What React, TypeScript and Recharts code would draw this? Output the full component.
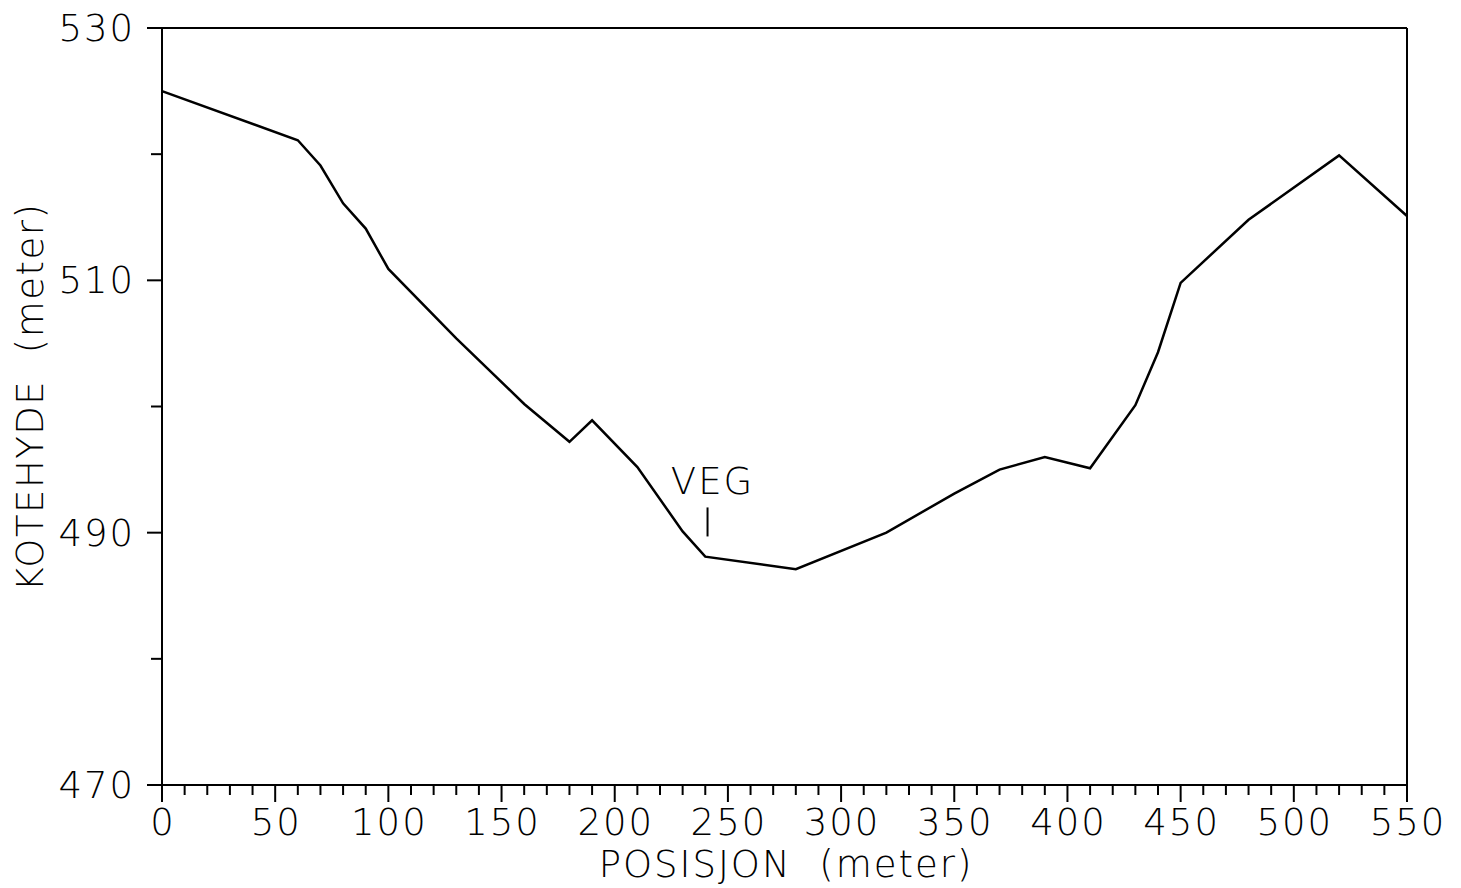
import { LineChart, Line, XAxis, YAxis, ReferenceLine, Label } from 'recharts';

// Terrengprofil: posisjon langs linja (m) og kotehøyde (m)
const posisjon = [0, 60, 70, 80, 90, 100, 130, 160, 180, 190, 210, 230, 240, 280, 320, 350, 370, 390, 410, 430, 440, 450, 480, 520, 550];
const kotehoyde = [525.0, 521.1, 519.1, 516.1, 514.1, 510.9, 505.4, 500.2, 497.2, 498.9, 495.2, 490.1, 488.1, 487.1, 490.0, 493.1, 495.0, 496.0, 495.1, 500.1, 504.3, 509.8, 514.8, 519.9, 515.1];

const xTicks = [
  0, 10, 20, 30, 40, 50, 60, 70, 80, 90, 100, 110, 120, 130, 140, 150, 160, 170, 180, 190,
  200, 210, 220, 230, 240, 250, 260, 270, 280, 290, 300, 310, 320, 330, 340, 350, 360, 370,
  380, 390, 400, 410, 420, 430, 440, 450, 460, 470, 480, 490, 500, 510, 520, 530, 540, 550,
];
const xLabels = [0, 50, 100, 150, 200, 250, 300, 350, 400, 450, 500, 550];
const yTicks = [470, 480, 490, 500, 510, 520, 530];
const yLabels = [470, 490, 510, 530];

// vegens plassering i profilet
const vegPos = 241;
const vegSpenn = [489.7, 492.0];

const data = posisjon.map((p, i) => ({ posisjon: p, kote: kotehoyde[i] }));

const FONT = '"DejaVu Sans", sans-serif';
const SIZE = 37;
const textStyle = { fontFamily: FONT, fontSize: SIZE, fontWeight: 200, letterSpacing: 2, whiteSpace: 'pre' as const };

const XTick = ({ x, y, payload }: any) => {
  const major = xLabels.includes(payload.value);
  return (
    <g>
      <line x1={x} y1={y} x2={x} y2={y + (major ? 17 : 10)} stroke="#000" strokeWidth={2} />
      {major && (
        <text x={x + 1} y={y + 50} textAnchor="middle" fill="#000" style={textStyle}>
          {payload.value}
        </text>
      )}
    </g>
  );
};

const YTick = ({ x, y, payload }: any) => {
  const major = yLabels.includes(payload.value);
  return (
    <g>
      <line x1={x} y1={y} x2={x - (major ? 15 : 11)} y2={y} stroke="#000" strokeWidth={2} />
      {major && (
        <text x={x - 27} y={y + 13} textAnchor="end" fill="#000" style={textStyle}>
          {payload.value}
        </text>
      )}
    </g>
  );
};

export default function App() {
  return (
    <div style={{ position: 'absolute', left: 0, top: 0, width: 1461, height: 888, background: '#fff' }}>
      <LineChart width={1461} height={888} data={data} margin={{ top: 28, right: 54, left: 0, bottom: 0 }}>
        <XAxis
          type="number"
          dataKey="posisjon"
          domain={[0, 550]}
          ticks={xTicks}
          interval={0}
          height={103}
          tickSize={0}
          tickMargin={0}
          tick={<XTick />}
          axisLine={{ stroke: '#000', strokeWidth: 2 }}
        >
          <Label
            content={() => (
              <text x={786} y={877} textAnchor="middle" fill="#000" style={textStyle}>
                {'POSISJON  (meter)'}
              </text>
            )}
          />
        </XAxis>
        <YAxis
          type="number"
          domain={[470, 530]}
          ticks={yTicks}
          interval={0}
          width={162}
          tickSize={0}
          tickMargin={0}
          tick={<YTick />}
          axisLine={{ stroke: '#000', strokeWidth: 2 }}
        >
          <Label
            content={() => (
              <text
                x={0}
                y={0}
                transform="translate(43 397) rotate(-90)"
                textAnchor="middle"
                fill="#000"
                style={{ ...textStyle, letterSpacing: 1.5 }}
              >
                {'KOTEHYDE  (meter)'}
              </text>
            )}
          />
        </YAxis>
        <ReferenceLine y={530} stroke="#000" strokeWidth={2} ifOverflow="visible" />
        <ReferenceLine x={550} stroke="#000" strokeWidth={2} ifOverflow="visible" />
        <ReferenceLine
          segment={[
            { x: vegPos, y: vegSpenn[0] },
            { x: vegPos, y: vegSpenn[1] },
          ]}
          stroke="#000"
          strokeWidth={2}
        >
          <Label value="VEG" position="top" offset={13} fill="#000" dx={5} style={textStyle} />
        </ReferenceLine>
        <Line
          type="linear"
          dataKey="kote"
          stroke="#000"
          strokeWidth={2.5}
          dot={false}
          isAnimationActive={false}
        />
      </LineChart>
    </div>
  );
}
